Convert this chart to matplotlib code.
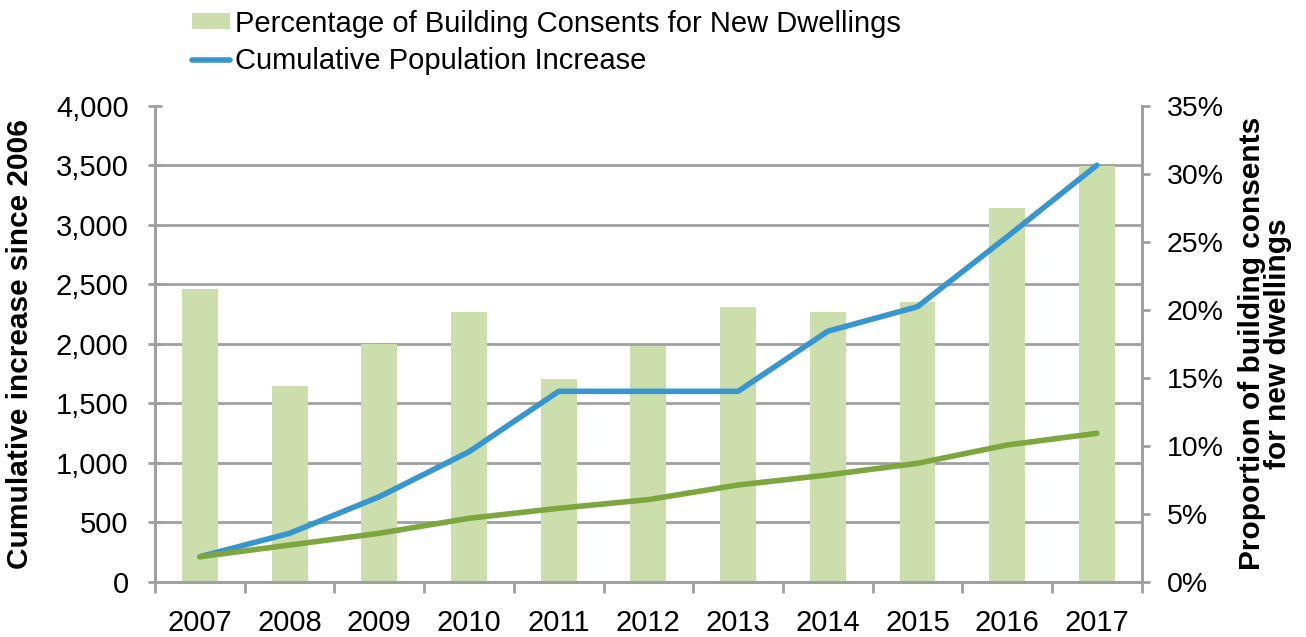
import matplotlib.pyplot as plt
import matplotlib.ticker as mticker
import numpy as np

plt.rcParams['font.family'] = ['Liberation Sans', 'DejaVu Sans']

years = ["2007", "2008", "2009", "2010", "2011", "2012", "2013", "2014", "2015", "2016", "2017"]
consent_pct = [21.5, 14.4, 17.5, 19.8, 14.9, 17.3, 20.2, 19.8, 20.6, 27.5, 30.6]
pop_increase = [210, 407, 714, 1092, 1600, 1600, 1600, 2105, 2311, 2899, 3500]
dwelling_increase = [210, 308, 407, 533, 617, 690, 813, 897, 995, 1149, 1247]

grey = "#a0a0a0"
bar_colour = "#cbdeac"
blue = "#3796cf"
green = "#7ea63f"

fig = plt.figure(figsize=(13.06, 6.37), dpi=100)
ax2 = fig.add_axes([0.1187, 0.0868, 0.8742 - 0.1187, 0.834 - 0.0868])
ax = ax2.twinx()

x = np.arange(len(years))

# bars on the percentage axis (drawn underneath)
bars = ax2.bar(x, consent_pct, width=0.40, color=bar_colour, zorder=2,
               label="Percentage of Building Consents for New Dwellings")
ax2.set_ylim(0, 35)
ax2.yaxis.set_major_locator(mticker.MultipleLocator(5))
ax2.yaxis.set_major_formatter(mticker.FuncFormatter(lambda v, p: f"{v:.0f}%"))
ax2.yaxis.tick_right()
ax2.yaxis.set_label_position("right")
# gridlines following the left scale, kept under the bars
ax2.set_yticks(np.arange(0, 4001, 500) / 4000 * 35, minor=True)
ax2.grid(axis="y", which="minor", color=grey, linewidth=2, zorder=0)
ax2.tick_params(axis="y", which="minor", length=0)
ax2.set_ylabel("Proportion of building consents\nfor new dwellings", fontsize=21.5,
               fontweight="bold", labelpad=10, linespacing=0.95)

# lines on the count axis
ax.plot(x, pop_increase, color=blue, linewidth=4, solid_capstyle="round",
        label="Cumulative Population Increase", zorder=3)
ax.plot(x, dwelling_increase, color=green, linewidth=4, solid_capstyle="round", zorder=3)
ax.set_ylim(0, 4000)
ax.yaxis.set_major_locator(mticker.MultipleLocator(500))
ax.yaxis.set_major_formatter(mticker.FuncFormatter(lambda v, p: f"{v:,.0f}"))
ax.yaxis.tick_left()
ax.yaxis.set_label_position("left")
ax.set_ylabel("Cumulative increase since 2006", fontsize=21.5, fontweight="bold", labelpad=16)

ax.set_xlim(-0.5, len(years) - 0.5)
ax2.set_xlim(-0.5, len(years) - 0.5)
ax2.set_xticks(np.arange(-0.5, len(years), 1.0))
ax2.set_xticklabels([])
ax2.set_xticks(x, minor=True)
ax2.set_xticklabels(years, minor=True)
ax2.tick_params(axis="x", which="major", length=8, width=2, color=grey, direction="out")
ax2.tick_params(axis="x", which="minor", length=0, labelsize=21, pad=20)
ax2.tick_params(axis="y", which="major", length=6, width=2, color=grey, labelsize=20.5, pad=12)
ax.tick_params(axis="y", length=10, width=2, color=grey, direction="inout", labelsize=21, pad=14)

for a in (ax, ax2):
    a.spines["top"].set_visible(False)
    for s in ("left", "right", "bottom"):
        a.spines[s].set_color(grey)
        a.spines[s].set_linewidth(2)

ax.set_zorder(ax2.get_zorder() + 1)
ax.patch.set_visible(False)

handles = [bars, ax.get_lines()[0]]
fig.legend(handles, [h.get_label() for h in handles], loc="upper left",
           bbox_to_anchor=(0.147, 0.985), frameon=False, fontsize=21,
           handlelength=1.3, handleheight=0.48, handletextpad=0.17,
           labelspacing=0.34, borderpad=0, borderaxespad=0)

fig.savefig("out.png", dpi=100)
